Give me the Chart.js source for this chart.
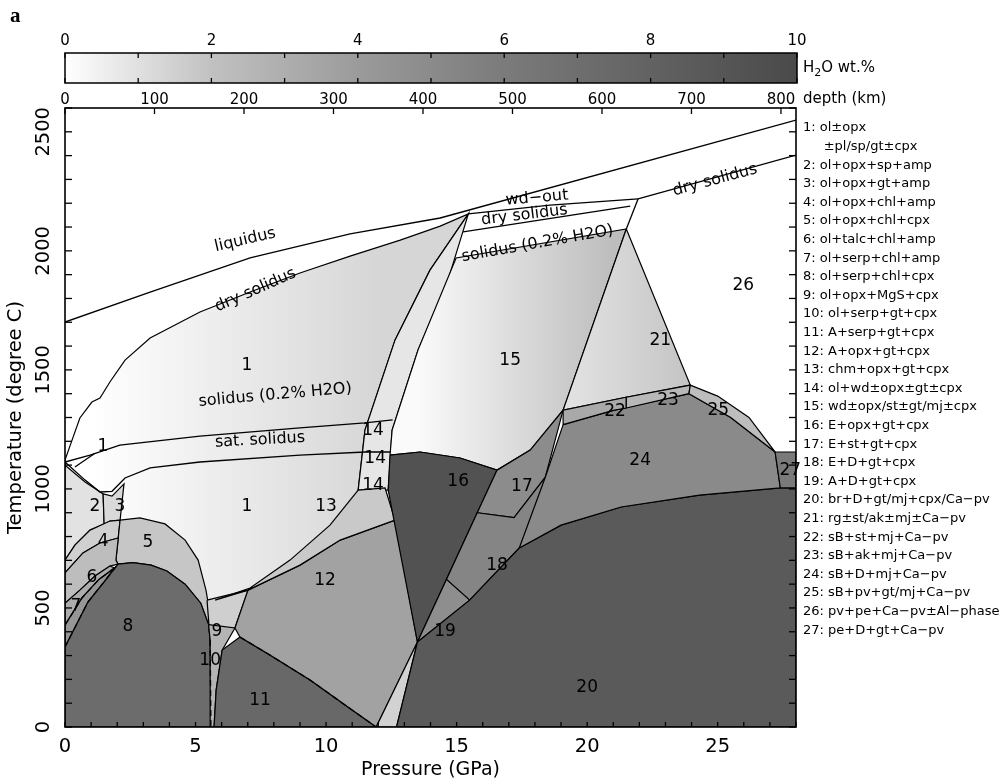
<!DOCTYPE html>
<html lang="en">
<head>
<meta charset="utf-8">
<title>Peridotite phase relations</title>
<script src="https://cdn.jsdelivr.net/npm/chart.js@4.4.1/dist/chart.umd.min.js"></script>
<style>
  html, body { margin: 0; padding: 0; background: #ffffff; }
  #contenedor { width: 1003px; height: 784px; }
</style>
</head>
<body>
<div id="contenedor"><canvas id="grafico" width="1003" height="784"></canvas></div>
<script>
const FUENTE = "'DejaVu Sans', sans-serif";

/******************************************************************
 * Datos: ejes
 ******************************************************************/
const ticksPresion = [0, 5, 10, 15, 20, 25];
const ticksTemperatura = [0, 500, 1000, 1500, 2000, 2500];
const ticksProfundidad = [0, 100, 200, 300, 400, 500, 600, 700, 800];
const ticksAgua = [0, 2, 4, 6, 8, 10];

const fases = [
  "1: ol±opx", "     ±pl/sp/gt±cpx", "2: ol+opx+sp+amp", "3: ol+opx+gt+amp",
  "4: ol+opx+chl+amp", "5: ol+opx+chl+cpx", "6: ol+talc+chl+amp", "7: ol+serp+chl+amp",
  "8: ol+serp+chl+cpx", "9: ol+opx+MgS+cpx", "10: ol+serp+gt+cpx", "11: A+serp+gt+cpx",
  "12: A+opx+gt+cpx", "13: chm+opx+gt+cpx", "14: ol+wd±opx±gt±cpx", "15: wd±opx/st±gt/mj±cpx",
  "16: E+opx+gt+cpx", "17: E+st+gt+cpx", "18: E+D+gt+cpx", "19: A+D+gt+cpx",
  "20: br+D+gt/mj+cpx/Ca−pv", "21: rg±st/ak±mj±Ca−pv", "22: sB+st+mj+Ca−pv", "23: sB+ak+mj+Ca−pv",
  "24: sB+D+mj+Ca−pv", "25: sB+pv+gt/mj+Ca−pv", "26: pv+pe+Ca−pv±Al−phase", "27: pe+D+gt+Ca−pv"
];

/******************************************************************
 * Datos: campos de fase [P (GPa), T (C)]
 ******************************************************************/
const region1 = [[0,1121],[0.27,1205],[0.57,1298],[1.03,1365],[1.34,1382],[1.72,1449],[2.3,1541],[3.26,1634],[5.17,1743],[7.09,1827],[9.0,1907],[10.92,1978],[12.84,2045],[14.37,2104],[15.45,2155],[13.98,1919],[12.64,1625],[11.49,1247],[11.23,995],[10.5,450],[0,450]];
const region14 = [[11.23,995],[11.49,1247],[12.64,1625],[13.98,1919],[15.45,2155],[14.67,1877],[13.52,1583],[12.53,1247],[12.38,995]];
const region15 = [[12.45,1142],[12.53,1247],[13.52,1583],[14.98,1970],[21.5,2092],[19.08,1331],[17.82,1163],[16.55,1079],[15.13,1130],[13.6,1155]];
const region21 = [[21.5,2092],[19.08,1331],[21.5,1385],[23.95,1436]];
const region2 = [[0,1100],[0.77,1029],[1.46,979],[1.5,850],[0.96,827],[0.38,764],[0,701]];
const region3 = [[1.46,979],[1.8,970],[2.26,1021],[2.11,869],[1.72,865],[1.5,850]];
const region4 = [[0,701],[0.38,764],[0.96,827],[1.72,865],[2.11,869],[2.04,794],[1.34,773],[0.69,731],[0,647]];
const region5 = [[2.11,869],[2.87,878],[3.83,853],[4.6,785],[5.1,701],[5.4,575],[5.56,470],[5.5,430],[5.2,520],[4.6,600],[3.9,655],[3.3,680],[2.6,690],[2.03,684],[1.95,701]];
const region6 = [[0,647],[0.69,731],[1.34,773],[2.04,794],[1.95,701],[2.03,684],[1.72,676],[1.15,634],[0.57,575],[0,520]];
const region7 = [[0,520],[0.57,575],[1.15,634],[1.72,676],[1.9,668],[1.3,620],[0.65,542],[0,428]];
const region7b = [[0,428],[0.65,542],[1.3,620],[1.9,668],[1.5,610],[0.88,525],[0,336]];
const region8 = [[0,0],[0,336],[0.88,525],[1.5,610],[2.03,684],[2.6,690],[3.3,680],[3.9,655],[4.6,600],[5.2,520],[5.5,430],[5.56,365],[5.59,0]];
const region9 = [[5.44,533],[7.01,575],[6.51,416],[5.56,365]];
const region10 = [[5.5,430],[6.51,416],[6.02,323],[5.79,155],[5.71,0],[5.59,0],[5.56,365]];
const region11 = [[5.71,0],[5.79,155],[6.02,323],[6.7,378],[7.85,302],[9.39,197],[10.73,92],[11.92,0]];
const region12 = [[6.51,416],[7.01,575],[9.0,680],[10.54,785],[12.64,869],[13.5,357],[11.92,0],[10.73,92],[9.39,197],[7.85,302],[6.7,378]];
const region12b = [[11.92,0],[13.5,357],[12.7,0]];
const region13 = [[5.75,533],[7.09,584],[8.62,701],[10.15,848],[11.23,995],[12.26,1004],[12.64,869],[10.54,785],[9.0,680],[7.01,575]];
const region16 = [[12.45,1142],[13.6,1155],[15.13,1130],[16.55,1079],[13.5,357],[12.6,869],[12.38,995]];
const region17 = [[16.55,1079],[17.82,1163],[19.08,1331],[18.4,1050],[17.2,880],[15.79,900]];
const region18 = [[15.79,900],[17.2,880],[18.4,1050],[18.0,820],[17.4,752],[15.5,533],[14.61,620]];
const region19 = [[13.5,357],[14.61,620],[15.5,533]];
const region20 = [[12.7,0],[13.5,357],[15.5,533],[17.4,752],[19.0,848],[21.3,924],[24.3,974],[27.4,1004],[28,1004],[28,0]];
const region24 = [[17.4,752],[18.4,1050],[19.08,1270],[21.0,1330],[23.9,1400],[25.5,1300],[27.2,1155],[27.4,1004],[24.3,974],[21.3,924],[19.0,848]];
const region22 = [[19.08,1270],[19.08,1331],[21.5,1385],[21.5,1340],[21.0,1330]];
const region23 = [[21.5,1340],[21.5,1385],[23.95,1436],[23.9,1400]];
const region25 = [[23.95,1436],[25.0,1390],[26.2,1300],[27.2,1155],[25.5,1300],[23.9,1400]];
const region27 = [[27.2,1155],[28,1155],[28,1004],[27.4,1004]];

/******************************************************************
 * Datos: curvas
 ******************************************************************/
const liquidus = [[0,1701],[3.26,1827],[7.09,1970],[10.92,2071],[14.37,2138],[28,2549]];
const lineaWdOut = [[15.45,2155],[18.58,2192],[21.95,2218]];
const solidoSecoAlto = [[21.95,2218],[28,2402]];
const solidoSecoMedio = [[15.25,2080],[21.65,2188]];
const solido02Bajo = [[0,1113],[0.96,1142],[2.1,1184],[5.17,1222],[9.0,1256],[11.49,1277],[12.55,1290]];
const solidoSaturado = [[0,1113],[0.77,1037],[1.34,987],[1.8,990],[2.3,1046],[3.26,1088],[5.17,1113],[9.0,1142],[11.5,1155],[12.45,1155]];
const limite21 = [[21.5,2092],[21.95,2218]];
const trazoA = [[0,428],[0.65,542],[1.3,620],[1.9,668]];
const trazoB = [[0,336],[0.88,525],[1.5,610],[2.03,684]];
const trazo8 = [[5.56,365],[5.59,0]];
const trazo11 = [[6.7,378],[7.85,302],[9.39,197],[10.73,92],[11.92,0]];
const guia1 = [[0.38,1092],[1.15,1150]];

const etiquetasRegion = [
  ["1",1.45,1176],["1",6.97,1520],["1",6.97,924],["2",1.15,924],["3",2.1,924],["4",1.46,777],
  ["5",3.18,773],["6",1.03,626],["7",0.42,504],["8",2.41,420],["9",5.82,399],["10",5.56,281],
  ["11",7.47,113],["12",9.96,617],["13",10.0,924],["14",11.8,1247],["14",11.88,1126],["14",11.8,1016],
  ["15",17.05,1541],["16",15.06,1029],["17",17.5,1008],["18",16.55,680],["19",14.56,399],["20",20.0,164],
  ["21",22.8,1625],["22",21.07,1323],["23",23.1,1373],["24",22.03,1121],["25",25.02,1327],["26",25.98,1856],["27",27.78,1075]
];
const etiquetasCurva = [
  ["liquidus",6.9,2045],["dry solidus",7.3,1835],["wd−out",18.08,2222],["dry solidus",17.6,2150],
  ["solidus (0.2% H2O)",18.1,2030],["dry solidus",24.9,2297],["solidus (0.2% H2O)",8.05,1394],["sat. solidus",7.47,1205]
];
const angulosCurva = [-13, -24, -5, -7, -10, -15, -5, -3];

/******************************************************************
 * Estilos
 ******************************************************************/
const escalaGris = [[0,"#ffffff"],[1,"#e0e0e0"],[2,"#c1c1c1"],[4,"#9b9b9b"],[6,"#7b7b7b"],[8,"#626262"],[10,"#4a4a4a"]];

const gradiente = (p0, c0, p1, c1) => (context) => {
  const chart = context.chart;
  if (!chart.chartArea) return c0;
  const xs = chart.scales.x;
  const g = chart.ctx.createLinearGradient(xs.getPixelForValue(p0), 0, xs.getPixelForValue(p1), 0);
  g.addColorStop(0, c0);
  g.addColorStop(1, c1);
  return g;
};

const capas = [
  [region1, gradiente(1, "#ffffff", 12, "#d6d6d6")],
  [region14, "#e6e6e6"],
  [region15, gradiente(13.5, "#fafafa", 21, "#bdbdbd")],
  [region21, gradiente(19, "#e4e4e4", 24, "#c4c4c4")],
  [region2, "#e2e2e2"],
  [region3, "#d9d9d9"],
  [region4, "#d0d0d0"],
  [region5, "#c6c6c6"],
  [region6, "#bdbdbd"],
  [region7, "#acacac"],
  [region7b, "#969696"],
  [region8, "#6c6c6c"],
  [region9, "#cfcfcf"],
  [region10, "#b4b4b4"],
  [region11, "#686868"],
  [region12, "#a2a2a2"],
  [region12b, "#d2d2d2"],
  [region13, "#c9c9c9"],
  [region16, "#525252"],
  [region17, "#8c8c8c"],
  [region18, "#858585"],
  [region19, "#8e8e8e"],
  [region20, "#5a5a5a"],
  [region24, "#8a8a8a"],
  [region22, "#a9a9a9"],
  [region23, "#b8b8b8"],
  [region25, "#bdbdbd"],
  [region27, "#7a7a7a"]
];

const curvas = [
  [liquidus, false], [lineaWdOut, false], [solidoSecoAlto, false], [solidoSecoMedio, false],
  [solido02Bajo, false], [solidoSaturado, false], [limite21, false], [guia1, false],
  [trazoA, true], [trazoB, true], [trazo8, true], [trazo11, true]
];

const aPuntos = (lista) => lista.map(([p, t]) => ({ x: p, y: t }));

const datasets = [];
capas.forEach(([puntos, color], i) => {
  const pts = aPuntos(puntos);
  pts.push(pts[0]);
  datasets.push({
    data: pts, fill: "shape", backgroundColor: color,
    borderColor: "#000", borderWidth: 1.2, pointRadius: 0, order: 200 - i
  });
});
curvas.forEach(([puntos, discontinua]) => {
  datasets.push({
    data: aPuntos(puntos), fill: false, borderColor: "#000", borderWidth: 1.3,
    borderDash: discontinua ? [6, 4] : [], pointRadius: 0, order: 1
  });
});

/******************************************************************
 * Plugin: marco, ticks, barra de color, leyenda, rotulos
 ******************************************************************/
const colorAgua = (ctx, x0, x1) => {
  const g = ctx.createLinearGradient(x0, 0, x1, 0);
  escalaGris.forEach(([w, c]) => g.addColorStop(w / 10, c));
  return g;
};

const decoracion = {
  id: "decoracion",
  afterDatasetsDraw(chart) {
    const { ctx, chartArea: a, scales } = chart;
    const xs = scales.x, ys = scales.y, xd = scales.xDepth;
    const linea = (x0, y0, x1, y1) => { ctx.beginPath(); ctx.moveTo(x0, y0); ctx.lineTo(x1, y1); ctx.stroke(); };
    ctx.save();
    ctx.fillStyle = "#000";
    ctx.strokeStyle = "#000";

    // rotulos de regiones
    ctx.font = `17px ${FUENTE}`;
    ctx.textAlign = "center";
    ctx.textBaseline = "middle";
    etiquetasRegion.forEach(([t, p, temp]) => ctx.fillText(t, xs.getPixelForValue(p), ys.getPixelForValue(temp)));

    // rotulos de curvas
    ctx.font = `16px ${FUENTE}`;
    etiquetasCurva.forEach(([t, p, temp], i) => {
      ctx.save();
      ctx.translate(xs.getPixelForValue(p), ys.getPixelForValue(temp));
      ctx.rotate(angulosCurva[i] * Math.PI / 180);
      ctx.fillText(t, 0, 0);
      ctx.restore();
    });

    // marco y ticks
    ctx.lineWidth = 1.6;
    ctx.strokeRect(a.left, a.top, a.right - a.left, a.bottom - a.top);
    ctx.lineWidth = 1.3;
    for (let p = 0; p <= 28; p++) {
      const px = xs.getPixelForValue(p);
      linea(px, a.bottom, px, a.bottom - 5);
    }
    for (let t = 0; t <= 2600; t += 100) {
      const py = ys.getPixelForValue(t);
      linea(a.left, py, a.left + 7, py);
      linea(a.right, py, a.right - 7, py);
    }
    ticksProfundidad.forEach((d) => {
      const px = xd.getPixelForValue(d);
      linea(px, a.top, px, a.top + 6);
    });

    // etiquetas eje y (rotadas)
    ctx.font = `19.5px ${FUENTE}`;
    ticksTemperatura.forEach((t) => {
      ctx.save();
      ctx.translate(44, ys.getPixelForValue(t));
      ctx.rotate(-Math.PI / 2);
      ctx.fillText(String(t), 0, 0);
      ctx.restore();
    });

    // barra de color H2O
    const bx0 = a.left, bx1 = a.right + 1, by0 = 53, by1 = 83;
    ctx.fillStyle = colorAgua(ctx, bx0, bx1);
    ctx.fillRect(bx0, by0, bx1 - bx0, by1 - by0);
    ctx.lineWidth = 1.5;
    ctx.strokeRect(bx0, by0, bx1 - bx0, by1 - by0);
    ctx.lineWidth = 1.3;
    for (let w = 0; w <= 10; w++) {
      const px = bx0 + (bx1 - bx0) * w / 10;
      linea(px, by0, px, by0 + 5);
      linea(px, by1, px, by1 - 5);
    }
    ctx.fillStyle = "#000";
    ctx.font = `15px ${FUENTE}`;
    ctx.textBaseline = "alphabetic";
    ticksAgua.forEach((w) => ctx.fillText(String(w), bx0 + (bx1 - bx0) * w / 10, 45));
    ctx.textAlign = "left";
    ctx.textBaseline = "middle";
    ctx.fillText("H", 803, 68);
    let ox = 803 + ctx.measureText("H").width;
    ctx.font = `11px ${FUENTE}`;
    ctx.fillText("2", ox, 73);
    ox += ctx.measureText("2").width;
    ctx.font = `15px ${FUENTE}`;
    ctx.fillText("O wt.%", ox, 68);
    ctx.fillText("depth (km)", 803, 99);

    // leyenda de fases
    ctx.font = `13px ${FUENTE}`;
    fases.forEach((t, i) => ctx.fillText(t, 803, 128 + i * 18.6));

    // letra del panel
    ctx.font = "bold 21px 'Liberation Serif', serif";
    ctx.fillText("a", 10, 17);
    ctx.restore();
  }
};

new Chart(document.getElementById("grafico"), {
  type: "line",
  data: { datasets },
  options: {
    responsive: false,
    animation: false,
    devicePixelRatio: 1,
    events: [],
    layout: { padding: { left: 0, right: 207, top: 0, bottom: 0 } },
    elements: { point: { radius: 0 }, line: { tension: 0 } },
    plugins: { legend: { display: false }, tooltip: { enabled: false } },
    scales: {
      x: {
        type: "linear", position: "bottom", min: 0, max: 28,
        grid: { display: false }, border: { display: false },
        afterBuildTicks: (s) => { s.ticks = ticksPresion.map((v) => ({ value: v })); },
        afterFit: (s) => { s.height = 57; },
        ticks: { color: "#000", padding: 0, maxRotation: 0, font: { family: FUENTE, size: 19.5 } },
        title: { display: true, text: "Pressure (GPa)", color: "#000", padding: { top: 0, bottom: 3 }, font: { family: FUENTE, size: 19 } }
      },
      xDepth: {
        type: "linear", position: "top", min: 0, max: 816.8,
        grid: { display: false }, border: { display: false },
        afterBuildTicks: (s) => { s.ticks = ticksProfundidad.map((v) => ({ value: v })); },
        afterFit: (s) => { s.height = 108; },
        ticks: { color: "#000", padding: -9, maxRotation: 0, font: { family: FUENTE, size: 15 } }
      },
      y: {
        type: "linear", position: "left", min: 0, max: 2600,
        grid: { display: false }, border: { display: false },
        afterBuildTicks: (s) => { s.ticks = ticksTemperatura.map((v) => ({ value: v })); },
        afterFit: (s) => { s.width = 65; },
        ticks: { display: false },
        title: { display: true, text: "Temperature (degree C)", color: "#000", padding: { top: 4, bottom: 0 }, font: { family: FUENTE, size: 19.5 } }
      }
    }
  },
  plugins: [decoracion]
});
</script>
</body>
</html>
